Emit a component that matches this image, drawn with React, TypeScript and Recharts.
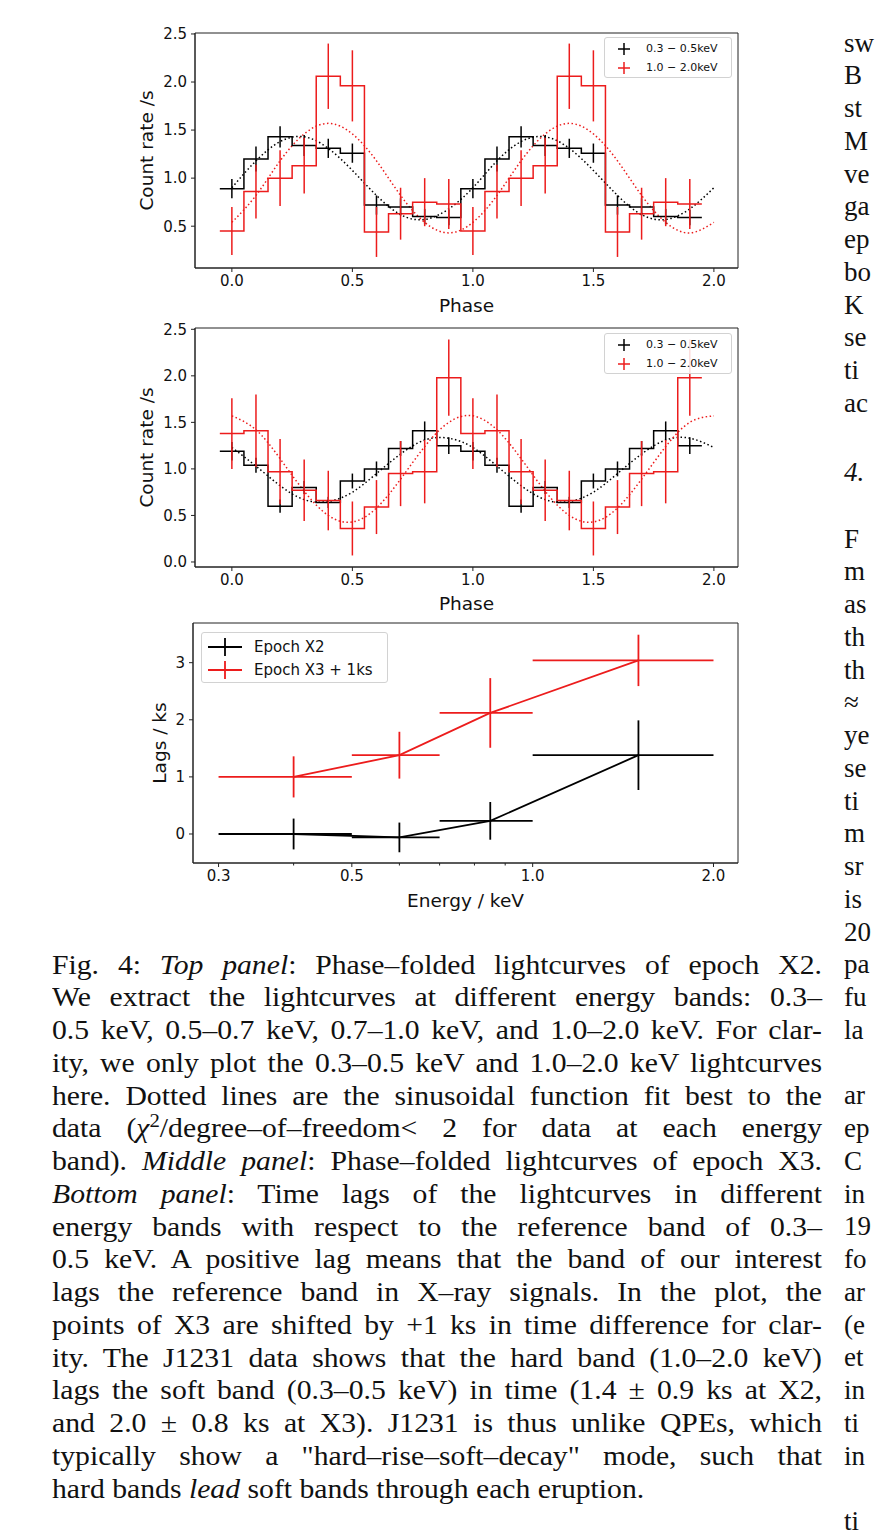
import React from "react";
import {
  ComposedChart,
  ErrorBar,
  Label,
  Legend,
  Line,
  ReferenceArea,
  Scatter,
  XAxis,
  YAxis,
} from "recharts";

// phase-folded bins (two cycles), fit curves sampled at FIT_PHASES
const PHASE_CENTERS = [0.0, 0.1, 0.2, 0.3, 0.4, 0.5, 0.6, 0.7, 0.8, 0.9, 1.0, 1.1, 1.2, 1.3, 1.4, 1.5, 1.6, 1.7, 1.8, 1.9];
const FIT_PHASES = [0.0, 0.1, 0.2, 0.3, 0.4, 0.5, 0.6, 0.7, 0.8, 0.9, 1.0, 1.1, 1.2, 1.3, 1.4, 1.5, 1.6, 1.7, 1.8, 1.9, 2.0];
const PHASE_TICKS = [0, 0.5, 1, 1.5, 2];
const BIN_HALF = 0.05;

// epoch X2
const X2_SOFT = [0.89, 1.2, 1.43, 1.34, 1.31, 1.26, 0.72, 0.7, 0.6, 0.59, 0.89, 1.2, 1.43, 1.34, 1.31, 1.26, 0.72, 0.7, 0.6, 0.59];
const X2_SOFT_ERR = [0.1, 0.13, 0.11, 0.11, 0.1, 0.1, 0.1, 0.09, 0.08, 0.08, 0.1, 0.13, 0.11, 0.11, 0.1, 0.1, 0.1, 0.09, 0.08, 0.08];
const X2_HARD = [0.45, 0.86, 1.0, 1.13, 2.06, 1.96, 0.44, 0.63, 0.75, 0.73, 0.45, 0.86, 1.0, 1.13, 2.06, 1.96, 0.44, 0.63, 0.75, 0.73];
const X2_HARD_ERR = [0.25, 0.28, 0.29, 0.29, 0.34, 0.37, 0.26, 0.27, 0.25, 0.26, 0.25, 0.28, 0.29, 0.29, 0.34, 0.37, 0.26, 0.27, 0.25, 0.26];
const X2_SOFT_FIT = [0.9, 1.18, 1.38, 1.43, 1.31, 1.08, 0.82, 0.62, 0.57, 0.68, 0.9, 1.18, 1.38, 1.43, 1.31, 1.08, 0.82, 0.62, 0.57, 0.68, 0.9];
const X2_HARD_FIT = [0.54, 0.82, 1.18, 1.46, 1.57, 1.46, 1.18, 0.82, 0.54, 0.43, 0.54, 0.82, 1.18, 1.46, 1.57, 1.46, 1.18, 0.82, 0.54, 0.43, 0.54];

// epoch X3
const X3_SOFT = [1.19, 1.04, 0.6, 0.8, 0.64, 0.87, 1.0, 1.22, 1.41, 1.25, 1.19, 1.04, 0.6, 0.8, 0.64, 0.87, 1.0, 1.22, 1.41, 1.25];
const X3_SOFT_ERR = [0.1, 0.08, 0.07, 0.07, 0.06, 0.08, 0.08, 0.08, 0.1, 0.09, 0.1, 0.08, 0.07, 0.07, 0.06, 0.08, 0.08, 0.08, 0.1, 0.09];
const X3_HARD = [1.38, 1.41, 0.97, 0.77, 0.66, 0.36, 0.59, 0.95, 0.97, 1.98, 1.38, 1.41, 0.97, 0.77, 0.66, 0.36, 0.59, 0.95, 0.97, 1.98];
const X3_HARD_ERR = [0.38, 0.39, 0.35, 0.33, 0.32, 0.29, 0.29, 0.35, 0.34, 0.41, 0.38, 0.39, 0.35, 0.33, 0.32, 0.29, 0.29, 0.35, 0.34, 0.41];
const X3_SOFT_FIT = [1.23, 1.03, 0.82, 0.67, 0.65, 0.75, 0.95, 1.16, 1.31, 1.33, 1.23, 1.03, 0.82, 0.67, 0.65, 0.75, 0.95, 1.16, 1.31, 1.33, 1.23];
const X3_HARD_FIT = [1.57, 1.42, 1.11, 0.76, 0.5, 0.43, 0.58, 0.89, 1.24, 1.5, 1.57, 1.42, 1.11, 0.76, 0.5, 0.43, 0.58, 0.89, 1.24, 1.5, 1.57];

// time lags vs energy
const ENERGY_CENTERS = [0.4, 0.6, 0.85, 1.5];
const ENERGY_LOW = [0.3, 0.5, 0.7, 1.0];
const ENERGY_HIGH = [0.5, 0.7, 1.0, 2.0];
const LAG_X2 = [0.0, -0.06, 0.23, 1.38];
const LAG_X2_ERR = [0.27, 0.26, 0.33, 0.61];
const LAG_X3 = [1.0, 1.38, 2.12, 3.04];
const LAG_X3_ERR = [0.36, 0.41, 0.61, 0.45];
const ENERGY_TICKS = [0.3, 0.4, 0.5, 0.6, 0.7, 0.8, 0.9, 1.0, 2.0];
const ENERGY_MAJOR = [0.3, 0.5, 1.0, 2.0];
const LAG_TICKS = [0, 1, 2, 3];

const FONT = "DejaVu Sans";
const AX = "#222";
const RED = "#ec1c1c";
const BLACK = "#000";
const TICK_FS = 15;
const TITLE_FS = 18.5;
const W = 760;
const H = 320;

const stepData = (vals: number[]) => {
  const pts = PHASE_CENTERS.map((c, i) => ({ x: c - BIN_HALF, y: vals[i] }));
  pts.push({ x: PHASE_CENTERS[PHASE_CENTERS.length - 1] + BIN_HALF, y: vals[vals.length - 1] });
  return pts;
};
const errData = (vals: number[], errs: number[]) =>
  PHASE_CENTERS.map((c, i) => ({ x: c, y: vals[i], e: errs[i] }));
const fitData = (vals: number[]) => FIT_PHASES.map((p, i) => ({ x: p, y: vals[i] }));
const lagData = (vals: number[], errs: number[]) =>
  ENERGY_CENTERS.map((c, i) => ({
    x: c,
    y: vals[i],
    ex: [c - ENERGY_LOW[i], ENERGY_HIGH[i] - c],
    ey: errs[i],
  }));

const Nothing = () => <g />;

const AxisTitle = ({ x, y, text, rotate }: { x: number; y: number; text: string; rotate?: boolean }) => (
  <text
    x={x}
    y={y}
    transform={rotate ? `rotate(-90 ${x} ${y})` : undefined}
    textAnchor="middle"
    dominantBaseline="central"
    fontSize={TITLE_FS}
    fontFamily={FONT}
    fill="#111"
  >
    {text}
  </text>
);

function PhaseLegend() {
  const rows = [
    { label: "0.3 \u2212 0.5keV", color: BLACK },
    { label: "1.0 \u2212 2.0keV", color: RED },
  ];
  return (
    <div
      style={{
        position: "relative",
        width: 128,
        height: 41,
        boxSizing: "border-box",
        border: "1px solid #d2d2d2",
        borderRadius: 3,
        background: "rgba(255,255,255,0.85)",
        fontFamily: FONT,
        fontSize: 11,
        color: "#111",
      }}
    >
      {rows.map((r, i) => (
        <div key={r.label} style={{ position: "absolute", left: 0, top: 2 + i * 19, height: 18, width: 126 }}>
          <svg width={14} height={14} style={{ position: "absolute", left: 12, top: 2 }}>
            <line x1={1} x2={13} y1={7} y2={7} stroke={r.color} strokeWidth={1.5} />
            <line x1={7} x2={7} y1={1} y2={13} stroke={r.color} strokeWidth={1.5} />
          </svg>
          <span style={{ position: "absolute", left: 41, top: 1, lineHeight: "16px", whiteSpace: "nowrap" }}>{r.label}</span>
        </div>
      ))}
    </div>
  );
}

function LagLegend() {
  const rows = [
    { label: "Epoch X2", color: BLACK },
    { label: "Epoch X3 + 1ks", color: RED },
  ];
  return (
    <div
      style={{
        position: "relative",
        width: 187,
        height: 51,
        boxSizing: "border-box",
        border: "1px solid #d2d2d2",
        borderRadius: 3,
        background: "rgba(255,255,255,0.85)",
        fontFamily: FONT,
        fontSize: 15,
        color: "#111",
      }}
    >
      {rows.map((r, i) => (
        <div key={r.label} style={{ position: "absolute", left: 0, top: 3 + i * 23, height: 22, width: 185 }}>
          <svg width={36} height={20} style={{ position: "absolute", left: 5, top: 1 }}>
            <line x1={1} x2={35} y1={10} y2={10} stroke={r.color} strokeWidth={1.8} />
            <line x1={18} x2={18} y1={1} y2={19} stroke={r.color} strokeWidth={1.8} />
          </svg>
          <span style={{ position: "absolute", left: 52, top: 1, lineHeight: "20px", whiteSpace: "nowrap" }}>{r.label}</span>
        </div>
      ))}
    </div>
  );
}

type PanelProps = {
  top: number;
  plotTop: number;
  plotBottom: number;
  yDomain: [number, number];
  yTicks: number[];
  soft: number[];
  softErr: number[];
  hard: number[];
  hardErr: number[];
  softFit: number[];
  hardFit: number[];
  legendTop: number;
  xTitleY: number;
};

const X_DOMAIN: [number, number] = [-0.153, 2.1];

function PhasePanel(p: PanelProps) {
  const plotLeft = 195;
  const plotRight = 738;
  const midY = (p.plotTop + p.plotBottom) / 2;
  return (
    <div style={{ position: "absolute", left: 0, top: p.top, width: W, height: H }}>
      <ComposedChart width={W} height={H} margin={{ top: p.plotTop, right: W - plotRight, left: 0, bottom: 0 }}>
        <XAxis
          dataKey="x"
          type="number"
          domain={X_DOMAIN}
          ticks={PHASE_TICKS}
          tickFormatter={(v: number) => v.toFixed(1)}
          allowDataOverflow
          height={H - p.plotBottom}
          tickSize={4}
          tickMargin={3}
          axisLine={{ stroke: AX }}
          tickLine={{ stroke: AX }}
          tick={{ fill: "#111", fontSize: TICK_FS, fontFamily: FONT }}
        >
          <Label content={() => <AxisTitle x={(plotLeft + plotRight) / 2} y={p.xTitleY} text="Phase" />} />
        </XAxis>
        <YAxis
          dataKey="y"
          type="number"
          domain={p.yDomain}
          ticks={p.yTicks}
          tickFormatter={(v: number) => v.toFixed(1)}
          allowDataOverflow
          width={plotLeft}
          tickSize={4}
          tickMargin={4}
          axisLine={{ stroke: AX }}
          tickLine={{ stroke: AX }}
          tick={{ fill: "#111", fontSize: TICK_FS, fontFamily: FONT }}
        >
          <Label content={() => <AxisTitle x={146} y={midY} text="Count rate /s" rotate />} />
        </YAxis>
        <ReferenceArea
          x1={X_DOMAIN[0]}
          x2={X_DOMAIN[1]}
          y1={p.yDomain[0]}
          y2={p.yDomain[1]}
          fill="none"
          stroke={AX}
          strokeWidth={1}
          ifOverflow="visible"
        />
        <Line data={fitData(p.softFit)} dataKey="y" type="natural" stroke={BLACK} strokeWidth={1.5} strokeDasharray="1.5 2.5" dot={false} isAnimationActive={false} />
        <Line data={fitData(p.hardFit)} dataKey="y" type="natural" stroke={RED} strokeWidth={1.5} strokeDasharray="1.5 2.5" dot={false} isAnimationActive={false} />
        <Line data={stepData(p.soft)} dataKey="y" type="stepAfter" stroke={BLACK} strokeWidth={1.5} dot={false} isAnimationActive={false} />
        <Line data={stepData(p.hard)} dataKey="y" type="stepAfter" stroke={RED} strokeWidth={1.5} dot={false} isAnimationActive={false} />
        <Scatter data={errData(p.soft, p.softErr)} dataKey="y" shape={Nothing} isAnimationActive={false}>
          <ErrorBar dataKey="e" direction="y" width={0} stroke={BLACK} strokeWidth={1.5} />
        </Scatter>
        <Scatter data={errData(p.hard, p.hardErr)} dataKey="y" shape={Nothing} isAnimationActive={false}>
          <ErrorBar dataKey="e" direction="y" width={0} stroke={RED} strokeWidth={1.5} />
        </Scatter>
        <Legend
          layout="horizontal"
          verticalAlign="middle"
          align="center"
          content={() => <PhaseLegend />}
          wrapperStyle={{ position: "absolute", left: 604, top: p.legendTop, width: 128, height: 41 }}
        />
      </ComposedChart>
    </div>
  );
}

const E_DOMAIN: [number, number] = [0.272, 2.197];
const LAG_DOMAIN: [number, number] = [-0.508, 3.695];

const EnergyTick = (props: any) => {
  const { x, y, payload } = props;
  const major = ENERGY_MAJOR.includes(payload.value);
  const len = major ? 4 : 2.5;
  return (
    <g>
      <line x1={x} x2={x} y1={y} y2={y + len} stroke={AX} strokeWidth={1} />
      {major && (
        <text x={x} y={y + 7} dy="0.71em" textAnchor="middle" fontSize={TICK_FS} fontFamily={FONT} fill="#111">
          {payload.value.toFixed(1)}
        </text>
      )}
    </g>
  );
};

function LagPanel() {
  const top = 600;
  const plotTop = 23;
  const plotBottom = 263;
  const plotLeft = 193;
  const plotRight = 738;
  return (
    <div style={{ position: "absolute", left: 0, top, width: W, height: H }}>
      <ComposedChart width={W} height={H} margin={{ top: plotTop, right: W - plotRight, left: 0, bottom: 0 }}>
        <XAxis
          dataKey="x"
          type="number"
          scale="log"
          domain={E_DOMAIN}
          ticks={ENERGY_TICKS}
          allowDataOverflow
          height={H - plotBottom}
          tickSize={0}
          tickMargin={0}
          axisLine={{ stroke: AX }}
          tickLine={false}
          tick={EnergyTick}
          interval={0}
        >
          <Label content={() => <AxisTitle x={(plotLeft + plotRight) / 2} y={300} text="Energy / keV" />} />
        </XAxis>
        <YAxis
          dataKey="y"
          type="number"
          domain={LAG_DOMAIN}
          ticks={LAG_TICKS}
          allowDataOverflow
          width={plotLeft}
          tickSize={4}
          tickMargin={4}
          axisLine={{ stroke: AX }}
          tickLine={{ stroke: AX }}
          tick={{ fill: "#111", fontSize: TICK_FS, fontFamily: FONT }}
        >
          <Label content={() => <AxisTitle x={159} y={(plotTop + plotBottom) / 2} text="Lags / ks" rotate />} />
        </YAxis>
        <ReferenceArea
          x1={E_DOMAIN[0]}
          x2={E_DOMAIN[1]}
          y1={LAG_DOMAIN[0]}
          y2={LAG_DOMAIN[1]}
          fill="none"
          stroke={AX}
          strokeWidth={1}
          ifOverflow="visible"
        />
        <Line data={lagData(LAG_X2, LAG_X2_ERR)} dataKey="y" type="linear" stroke={BLACK} strokeWidth={1.8} dot={false} isAnimationActive={false} />
        <Line data={lagData(LAG_X3, LAG_X3_ERR)} dataKey="y" type="linear" stroke={RED} strokeWidth={1.8} dot={false} isAnimationActive={false} />
        <Scatter data={lagData(LAG_X2, LAG_X2_ERR)} dataKey="y" shape={Nothing} isAnimationActive={false}>
          <ErrorBar dataKey="ex" direction="x" width={0} stroke={BLACK} strokeWidth={1.8} />
          <ErrorBar dataKey="ey" direction="y" width={0} stroke={BLACK} strokeWidth={1.8} />
        </Scatter>
        <Scatter data={lagData(LAG_X3, LAG_X3_ERR)} dataKey="y" shape={Nothing} isAnimationActive={false}>
          <ErrorBar dataKey="ex" direction="x" width={0} stroke={RED} strokeWidth={1.8} />
          <ErrorBar dataKey="ey" direction="y" width={0} stroke={RED} strokeWidth={1.8} />
        </Scatter>
        <Legend
          layout="horizontal"
          verticalAlign="middle"
          align="center"
          content={() => <LagLegend />}
          wrapperStyle={{ position: "absolute", left: 201, top: 32, width: 187, height: 51 }}
        />
      </ComposedChart>
    </div>
  );
}

// caption, one entry per printed line
const CAPTION: React.ReactNode[] = [
  <>Fig. 4: <i>Top panel</i>: Phase–folded lightcurves of epoch X2.</>,
  <>We extract the lightcurves at different energy bands: 0.3–</>,
  <>0.5 keV, 0.5–0.7 keV, 0.7–1.0 keV, and 1.0–2.0 keV. For clar-</>,
  <>ity, we only plot the 0.3–0.5 keV and 1.0–2.0 keV lightcurves</>,
  <>here. Dotted lines are the sinusoidal function fit best to the</>,
  <>data (<i>χ</i><sup style={{ fontSize: "0.7em", lineHeight: 0 }}>2</sup>/degree–of–freedom&lt; 2 for data at each energy</>,
  <>band). <i>Middle panel</i>: Phase–folded lightcurves of epoch X3.</>,
  <><i>Bottom panel</i>: Time lags of the lightcurves in different</>,
  <>energy bands with respect to the reference band of 0.3–</>,
  <>0.5 keV. A positive lag means that the band of our interest</>,
  <>lags the reference band in X–ray signals. In the plot, the</>,
  <>points of X3 are shifted by +1 ks in time difference for clar-</>,
  <>ity. The J1231 data shows that the hard band (1.0–2.0 keV)</>,
  <>lags the soft band (0.3–0.5 keV) in time (1.4 ± 0.9 ks at X2,</>,
  <>and 2.0 ± 0.8 ks at X3). J1231 is thus unlike QPEs, which</>,
  <>typically show a "hard–rise–soft–decay" mode, such that</>,
  <>hard bands <i>lead</i> soft bands through each eruption.</>,
];

// visible edge of the neighbouring column
const SIDE_TOP = ["sw", "B", "st", "M", "ve", "ga", "ep", "bo", "K", "se", "ti", "ac"];
const SIDE_BOTTOM = ["F", "m", "as", "th", "th", "≈", "ye", "se", "ti", "m", "sr", "is", "20", "pa", "fu", "la", "", "ar", "ep", "C", "in", "19", "fo", "ar", "(e", "et", "in", "ti", "in", "", "ti"];

const LINE = 32.75;
const SCALE_X = 1.1;

const textLine = (y: number, left: number, width: number, justify: boolean, scale = SCALE_X): React.CSSProperties => ({
  position: "absolute",
  left,
  top: y - LINE / 2,
  width: width / scale,
  height: LINE,
  lineHeight: `${LINE}px`,
  fontFamily: "Liberation Serif",
  fontSize: 27,
  color: "#111",
  textAlign: justify ? "justify" : "left",
  textAlignLast: justify ? "justify" : "left",
  transform: `scaleX(${scale})`,
  transformOrigin: "left center",
  whiteSpace: "normal",
});

const SIDE_X = 844;

export default function App() {
  return (
    <div style={{ position: "absolute", left: 0, top: 0, width: 875, height: 1536, background: "#fff", overflow: "hidden" }}>
      <PhasePanel
        top={0}
        plotTop={33}
        plotBottom={268}
        yDomain={[0.065, 2.51]}
        yTicks={[0.5, 1, 1.5, 2, 2.5]}
        soft={X2_SOFT}
        softErr={X2_SOFT_ERR}
        hard={X2_HARD}
        hardErr={X2_HARD_ERR}
        softFit={X2_SOFT_FIT}
        hardFit={X2_HARD_FIT}
        legendTop={37}
        xTitleY={305}
      />
      <PhasePanel
        top={300}
        plotTop={28}
        plotBottom={267}
        yDomain={[-0.054, 2.514]}
        yTicks={[0, 0.5, 1, 1.5, 2, 2.5]}
        soft={X3_SOFT}
        softErr={X3_SOFT_ERR}
        hard={X3_HARD}
        hardErr={X3_HARD_ERR}
        softFit={X3_SOFT_FIT}
        hardFit={X3_HARD_FIT}
        legendTop={33}
        xTitleY={303}
      />
      <LagPanel />
      {CAPTION.map((c, i) => (
        <div key={`c${i}`} style={textLine(965 + i * LINE, 52, 770, i < CAPTION.length - 1)}>
          {c}
        </div>
      ))}
      {SIDE_TOP.map((t, i) => (
        <div key={`t${i}`} style={textLine(43 + i * LINE, SIDE_X, 31, false, 1)}>
          {t}
        </div>
      ))}
      <div style={textLine(472, SIDE_X, 31, false, 1)}>
        <i>4.</i>
      </div>
      {SIDE_BOTTOM.map((t, i) => (
        <div key={`b${i}`} style={textLine(539 + i * LINE, SIDE_X, 31, false, 1)}>
          {t}
        </div>
      ))}
    </div>
  );
}
